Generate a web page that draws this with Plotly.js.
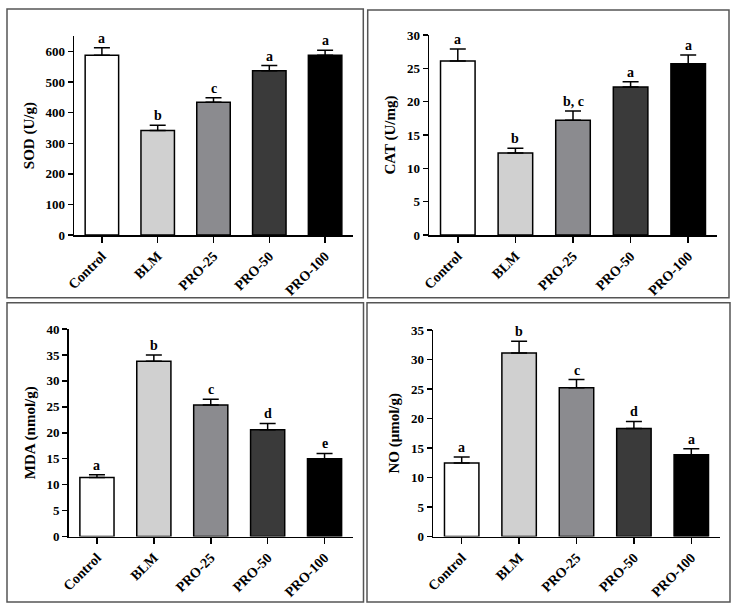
<!DOCTYPE html>
<html>
<head>
<meta charset="utf-8">
<script src="https://cdn.plot.ly/plotly-3.0.1.min.js"></script>
<style>html,body{margin:0;padding:0;background:#fff;}#chart{width:737px;height:609px;}</style>
</head>
<body>
<div id="chart"></div>
<script>
// ---- data ----
var categories = ['Control', 'BLM', 'PRO-25', 'PRO-50', 'PRO-100'];
var barColors = ['#ffffff', '#d0d0d0', '#8b8b8f', '#3a3a3a', '#000000'];

var sodValues = [588, 342, 434, 537, 588];
var sodErrors = [24, 17, 15, 17, 16];
var sodLetters = ['a', 'b', 'c', 'a', 'a'];

var catValues = [26.1, 12.3, 17.2, 22.2, 25.7];
var catErrors = [1.8, 0.7, 1.4, 0.8, 1.3];
var catLetters = ['a', 'b', 'b, c', 'a', 'a'];

var mdaValues = [11.35, 33.8, 25.35, 20.6, 14.97];
var mdaErrors = [0.55, 1.2, 1.1, 1.2, 1.05];
var mdaLetters = ['a', 'b', 'c', 'd', 'e'];

var noValues = [12.46, 31.1, 25.2, 18.3, 13.87];
var noErrors = [1.0, 2.0, 1.4, 1.2, 1.0];
var noLetters = ['a', 'b', 'c', 'd', 'a'];

var yTitles = ['SOD (U/g)', 'CAT (U/mg)', 'MDA (nmol/g)', 'NO (μmol/g)'];
var yRanges = [[0, 650], [0, 30], [0, 40], [0, 35]];
var yDticks = [100, 5, 5, 5];

// ---- layout helpers ----
var W = 737, H = 609;
var FONT = 'Liberation Serif, Times New Roman, serif';
function px(x) { return x / W; }
function py(y) { return 1 - y / H; }

var panels = [
  {vals: sodValues, errs: sodErrors, letters: sodLetters, xd: [74, 353], yd: [235, 36.2]},
  {vals: catValues, errs: catErrors, letters: catLetters, xd: [429, 717], yd: [235, 35]},
  {vals: mdaValues, errs: mdaErrors, letters: mdaLetters, xd: [68.5, 353], yd: [536.5, 329]},
  {vals: noValues, errs: noErrors, letters: noLetters, xd: [433, 720], yd: [536.5, 330]}
];

var traces = [];
var annotations = [];
var layout = {
  width: W, height: H,
  margin: {l: 0, r: 0, t: 0, b: 0},
  paper_bgcolor: '#ffffff',
  plot_bgcolor: 'rgba(0,0,0,0)',
  showlegend: false,
  font: {family: FONT, color: '#000', weight: 700, size: 12}
};

panels.forEach(function (p, i) {
  var sfx = i === 0 ? '' : String(i + 1);
  var xa = 'x' + sfx, ya = 'y' + sfx;
  traces.push({
    type: 'bar',
    x: categories,
    y: p.vals,
    xaxis: xa, yaxis: ya,
    width: 0.6,
    marker: {color: barColors, line: {color: '#000', width: 1.5}},
    error_y: {type: 'data', symmetric: false, array: p.errs, arrayminus: p.errs.map(function () { return 0; }),
      color: '#000', thickness: 1.5, width: 8},
    hoverinfo: 'none'
  });
  layout['xaxis' + sfx] = {
    domain: [px(p.xd[0]), px(p.xd[1])],
    anchor: ya,
    type: 'category',
    range: [-0.5, 4.5],
    showline: true, linecolor: '#000', linewidth: 1.5,
    ticks: 'outside', ticklen: 6, tickwidth: 1.5, tickcolor: '#000',
    tickangle: -45,
    tickfont: {family: FONT, size: 14, color: '#000', weight: 700},
    showgrid: false, zeroline: false, fixedrange: true
  };
  layout['yaxis' + sfx] = {
    domain: [py(p.yd[0]), py(p.yd[1])],
    anchor: xa,
    range: yRanges[i],
    dtick: yDticks[i], tick0: 0,
    showline: true, linecolor: '#000', linewidth: 1.5,
    ticks: 'outside', ticklen: 5, tickwidth: 1.5, tickcolor: '#000',
    tickfont: {family: FONT, size: 13, color: '#000', weight: 700},
    showgrid: false, zeroline: false, fixedrange: true,
    title: {text: yTitles[i], font: {family: FONT, size: 15, color: '#000', weight: 700}, standoff: 7}
  };
  categories.forEach(function (c, k) {
    annotations.push({
      xref: xa, yref: ya,
      x: c, y: p.vals[k] + p.errs[k],
      text: p.letters[k],
      showarrow: false,
      yanchor: 'bottom',
      yshift: 0,
      font: {family: FONT, size: 14, color: '#000', weight: 700}
    });
  });
});

var boxes = [
  [7, 9, 363.3, 297.7],
  [367.7, 10, 729, 297.7],
  [7, 302.7, 363.5, 602],
  [367, 302.7, 730, 602]
];
layout.shapes = boxes.map(function (b) {
  return {type: 'rect', xref: 'paper', yref: 'paper',
    x0: px(b[0]), x1: px(b[2]), y0: py(b[3]), y1: py(b[1]),
    line: {color: '#555', width: 1.5}, fillcolor: 'rgba(0,0,0,0)'};
});
layout.annotations = annotations;

Plotly.newPlot('chart', traces, layout, {displayModeBar: false, staticPlot: true});
</script>
</body>
</html>
